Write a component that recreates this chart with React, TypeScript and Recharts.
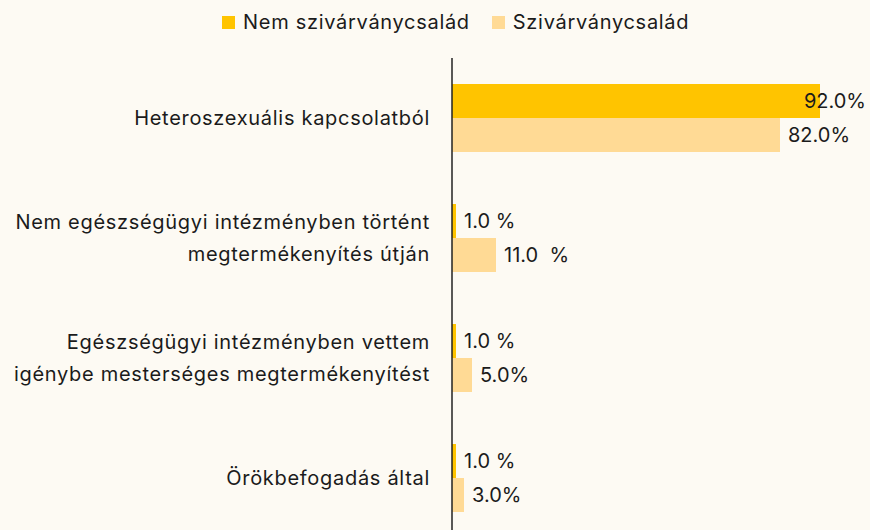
import { BarChart, Bar, XAxis, YAxis, LabelList } from 'recharts'

const categories = [
  'Heteroszexuális kapcsolatból',
  'Nem egészségügyi intézményben történt\nmegtermékenyítés útján',
  'Egészségügyi intézményben vettem\nigénybe mesterséges megtermékenyítést',
  'Örökbefogadás által',
]
const nemValues = [92, 1, 1, 1]
const szivValues = [82, 11, 5, 3]
const nemLabels = ['92.0%', '1.0 %', '1.0 %', '1.0 %']
const szivLabels = ['82.0%', '11.0  %', '5.0%', '3.0%']
const seriesNames = ['Nem szivárványcsalád', 'Szivárványcsalád']

const DARK = '#FFC400'
const LIGHT = '#FFDA95'
const BG = '#FDFAF3'
const TEXT = '#1b1b1b'
const FONT = 'Inter, "Open Sans", sans-serif'
const W = 870

const data = categories.map((c, i) => ({
  name: c,
  nem: nemValues[i],
  sziv: szivValues[i],
}))

function CategoryTick({ y, payload }: any) {
  const lines = String(payload.value).split('\n')
  const lh = 32
  const startY = y - ((lines.length - 1) * lh) / 2
  const tx = 430
  return (
    <text x={tx} y={startY} textAnchor="end" fill={TEXT} fontSize={20} letterSpacing={0.7} fontFamily={FONT} dominantBaseline="central">
      {lines.map((l, i) => (
        <tspan key={i} x={tx} y={startY + i * lh}>{l}</tspan>
      ))}
    </text>
  )
}

function makeLabel(labels: string[]) {
  return (props: any) => {
    const { x, y, width, height, index } = props
    const text = labels[index]
    const end = x + width
    const est = text.length * 12.5
    const limit = W - 4
    const clamp = end + 8 + est > limit
    return (
      <text
        x={clamp ? limit : end + 8}
        y={y + height / 2}
        textAnchor={clamp ? 'end' : 'start'}
        dominantBaseline="central"
        fill={TEXT}
        fontSize={20}
        fontFamily={FONT}
        style={{ whiteSpace: 'pre' }}
      >
        {text}
      </text>
    )
  }
}

function TopLegend() {
  const colors = [DARK, LIGHT]
  return (
    <div style={{ position: 'absolute', top: 10, left: 222, display: 'flex', fontFamily: FONT, fontSize: 20, letterSpacing: 0.7, color: TEXT }}>
      {seriesNames.map((n, i) => (
        <div key={n} style={{ display: 'flex', alignItems: 'center', marginRight: 22 }}>
          <span style={{ width: 13, height: 13, background: colors[i], display: 'inline-block', marginRight: 8 }} />
          <span>{n}</span>
        </div>
      ))}
    </div>
  )
}

export default function App() {
  return (
    <div style={{ position: 'absolute', left: 0, top: 0, width: W, height: 540, background: BG, overflow: 'hidden' }}>
      <TopLegend />
      <BarChart
        width={W}
        height={538}
        data={data}
        layout="vertical"
        margin={{ top: 58, right: 18, bottom: 0, left: 0 }}
        barGap={0}
      >
        <XAxis type="number" domain={[0, 100]} hide />
        <YAxis
          type="category"
          dataKey="name"
          width={452}
          axisLine={{ stroke: '#222', strokeWidth: 1.5 }}
          tickLine={false}
          tick={<CategoryTick />}
          interval={0}
        />
        <Bar dataKey="nem" name={seriesNames[0]} fill={DARK} barSize={34} isAnimationActive={false}>
          <LabelList dataKey="nem" content={makeLabel(nemLabels)} />
        </Bar>
        <Bar dataKey="sziv" name={seriesNames[1]} fill={LIGHT} barSize={34} isAnimationActive={false}>
          <LabelList dataKey="sziv" content={makeLabel(szivLabels)} />
        </Bar>
      </BarChart>
    </div>
  )
}
